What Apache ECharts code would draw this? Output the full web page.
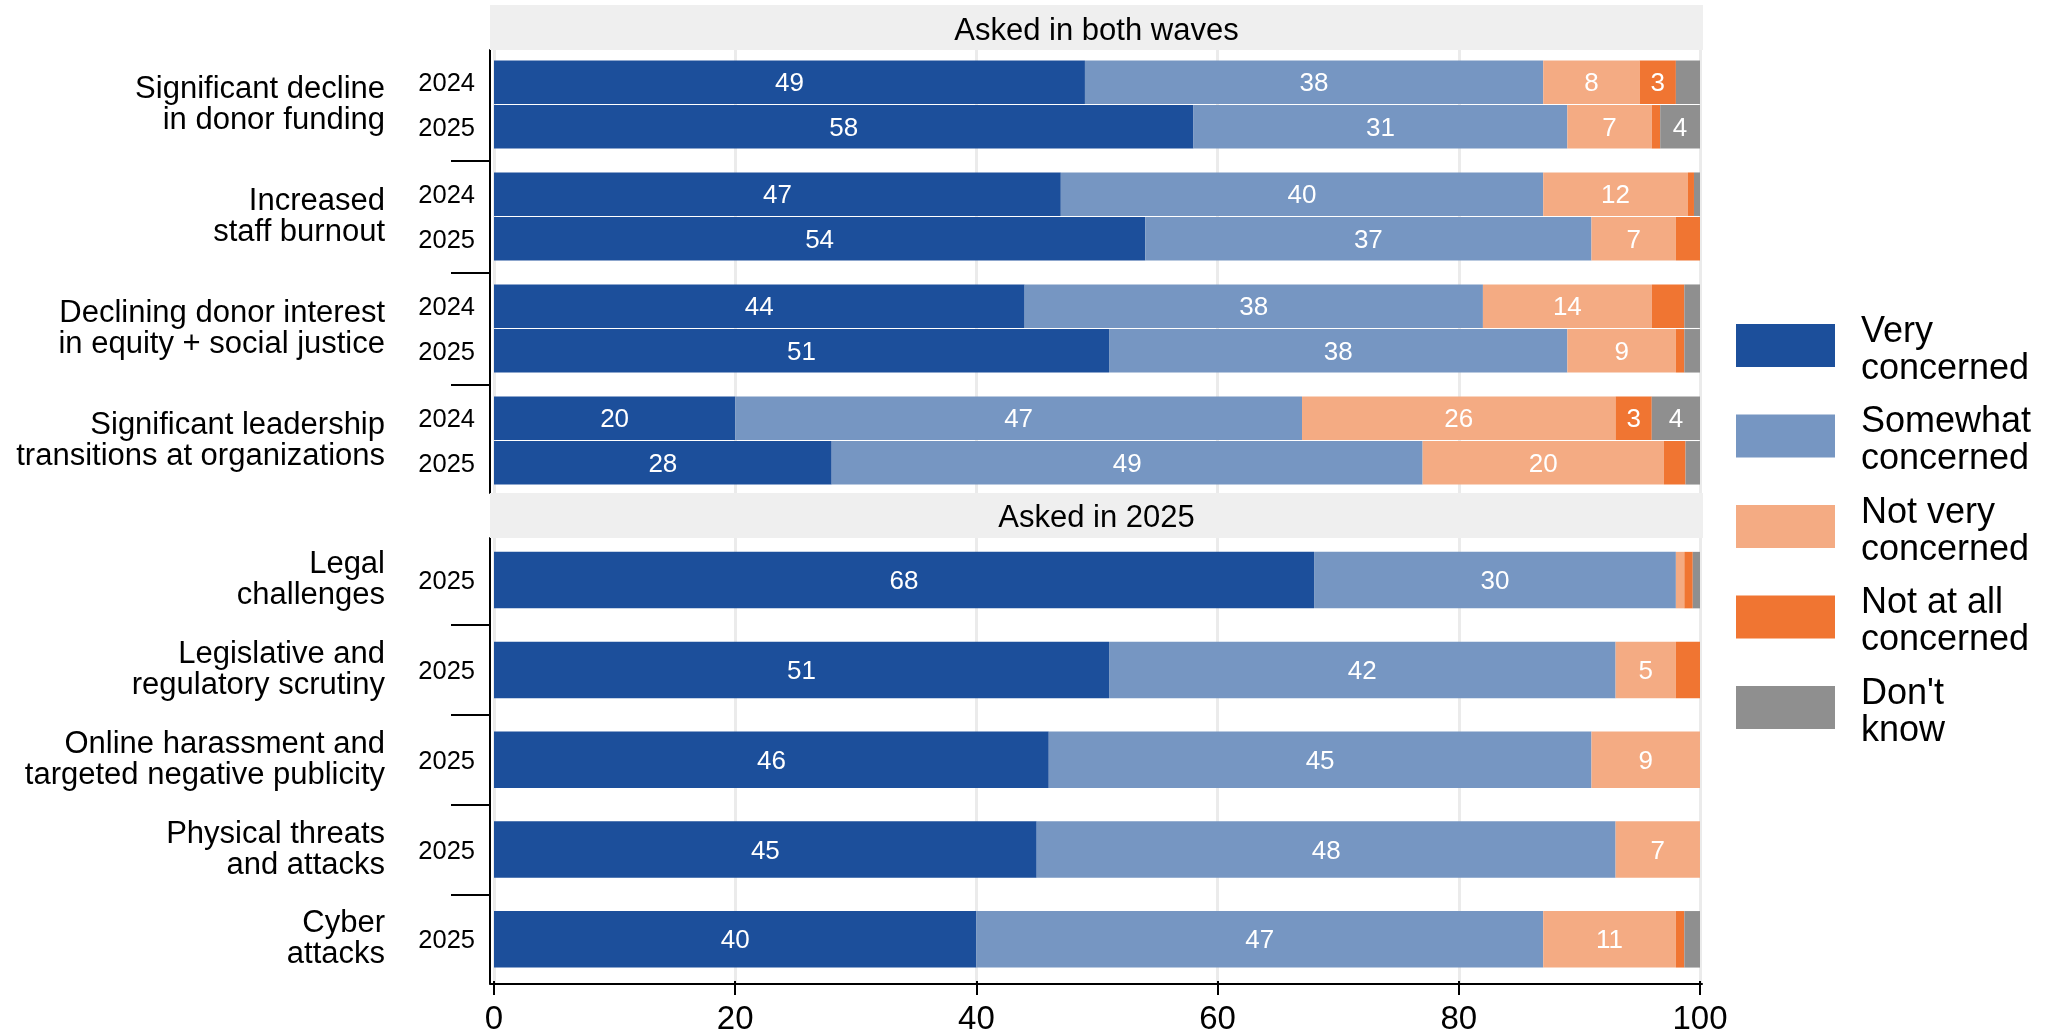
<!DOCTYPE html>
<html>
<head>
<meta charset="utf-8">
<script src="https://cdn.jsdelivr.net/npm/echarts@6/dist/echarts.min.js"></script>
<style>
  html, body { margin: 0; padding: 0; background: #ffffff; }
  #chart { width: 2051px; height: 1036px; }
</style>
</head>
<body>
<div id="chart"></div>
<script>
// Response scale, legend wording and colours
const responses = ['Very concerned', 'Somewhat concerned', 'Not very concerned', 'Not at all concerned', "Don't know"];
const responseLegend = [['Very', 'concerned'], ['Somewhat', 'concerned'], ['Not very', 'concerned'], ['Not at all', 'concerned'], ["Don't", 'know']];
const responseColors = ['#1c4f9b', '#7696c2', '#f4ab83', '#f07532', '#8f8f8f'];

// Panel headings and wave years
const panelTitles = ['Asked in both waves', 'Asked in 2025'];
const waveYears = ['2024', '2025'];

// Concerns asked in both waves
const bothWavesItems = [
  'Significant decline\nin donor funding',
  'Increased\nstaff burnout',
  'Declining donor interest\nin equity + social justice',
  'Significant leadership\ntransitions at organizations'
];
const very2024     = [49, 47, 44, 20];
const somewhat2024 = [38, 40, 38, 47];
const notVery2024  = [8, 12, 14, 26];
const notAtAll2024 = [3, 0.5, 2.7, 3];
const dontKnow2024 = [2, 0.5, 1.3, 4];

const very2025     = [58, 54, 51, 28];
const somewhat2025 = [31, 37, 38, 49];
const notVery2025  = [7, 7, 9, 20];
const notAtAll2025 = [0.7, 2, 0.7, 1.8];
const dontKnow2025 = [4, 0, 1.3, 1.2];

// Concerns asked only in 2025
const newItems = [
  'Legal\nchallenges',
  'Legislative and\nregulatory scrutiny',
  'Online harassment and\ntargeted negative publicity',
  'Physical threats\nand attacks',
  'Cyber\nattacks'
];
const newVery     = [68, 51, 46, 45, 40];
const newSomewhat = [30, 42, 45, 48, 47];
const newNotVery  = [0.7, 5, 9, 7, 11];
const newNotAtAll = [0.7, 2, 0, 0, 0.7];
const newDontKnow = [0.6, 0, 0, 0, 1.3];

// Tick values of the percentage axis
const percentTicks = [0, 20, 40, 60, 80, 100];

const FONT = '"Liberation Sans", Arial, Helvetica, sans-serif';

// One stacked bar per wave: an empty anchor bar carries the year label,
// followed by the five response segments.
function waveStack(axisIdx, stackId, year, arrays, items, barWidth) {
  const out = [];
  out.push({
    name: year + ' row',
    type: 'bar',
    xAxisIndex: axisIdx.x,
    yAxisIndex: axisIdx.y,
    stack: stackId,
    barWidth: barWidth,
    barGap: '2.5%',
    data: items.map(() => 0),
    itemStyle: { color: 'rgba(0,0,0,0)' },
    label: {
      show: true, position: 'left', distance: 19, offset: [0, 2],
      formatter: () => year,
      color: '#000', fontSize: 25.5, fontFamily: FONT
    },
    silent: true
  });
  arrays.forEach((vals, i) => {
    out.push({
      name: responses[i],
      type: 'bar',
      xAxisIndex: axisIdx.x,
      yAxisIndex: axisIdx.y,
      stack: stackId,
      barWidth: barWidth,
      barGap: '2.5%',
      data: vals,
      itemStyle: { color: responseColors[i] },
      label: {
        show: true, position: 'inside', offset: [0, 2],
        formatter: p => (p.value >= 3 ? String(p.value) : ''),
        color: '#ffffff', fontSize: 26, fontFamily: FONT
      }
    });
  });
  return out;
}

const series = [].concat(
  waveStack({ x: 0, y: 0 }, 'wave2024', waveYears[0],
    [very2024, somewhat2024, notVery2024, notAtAll2024, dontKnow2024], bothWavesItems, 43.5),
  waveStack({ x: 0, y: 0 }, 'wave2025', waveYears[1],
    [very2025, somewhat2025, notVery2025, notAtAll2025, dontKnow2025], bothWavesItems, 43.5),
  waveStack({ x: 1, y: 2 }, 'new2025', waveYears[1],
    [newVery, newSomewhat, newNotVery, newNotAtAll, newDontKnow], newItems, 56.5)
);

const blackLine = { color: '#000', width: 2 };
const gridLine = { show: true, lineStyle: { color: '#ebebeb', width: 3 } };

const categoryAxis = (grid, items) => ({
  gridIndex: grid, type: 'category', inverse: true, data: items,
  axisLine: { show: false, onZero: false }, axisTick: { show: false },
  axisLabel: { margin: 109, fontSize: 31, lineHeight: 31, color: '#000', align: 'right', fontFamily: FONT }
});
// Separator ticks between concern groups
const separatorAxis = (grid, n) => ({
  gridIndex: grid, type: 'value', min: 0, max: n, inverse: true, position: 'left', offset: 4,
  axisLine: { show: false, onZero: false },
  axisTick: { show: true, length: 39, inside: false, lineStyle: blackLine,
              customValues: Array.from({ length: n - 1 }, (_, i) => i + 1) },
  axisLabel: { show: false }, splitLine: { show: false }
});
const frameY = grid => ({
  gridIndex: grid, type: 'value', min: 0, max: 1,
  axisLine: { show: true, onZero: false, lineStyle: blackLine },
  axisTick: { show: false }, axisLabel: { show: false }, splitLine: { show: false }
});

const legendText = { fontSize: 36, lineHeight: 37, color: '#000', fontFamily: FONT };

const option = {
  animation: false,
  backgroundColor: '#ffffff',
  textStyle: { fontFamily: FONT },
  grid: [
    { left: 494, width: 1206, top: 48.5, height: 448 },
    { left: 494, width: 1206, top: 535.2, height: 451.5 },
    { left: 490, width: 1213, top: 50, height: 443 },
    { left: 490, width: 1212, top: 538, height: 445.5 }
  ],
  xAxis: [
    { gridIndex: 0, type: 'value', position: 'bottom',
      min: percentTicks[0], max: percentTicks[percentTicks.length - 1], interval: 20,
      axisLine: { show: false, onZero: false }, axisTick: { show: false }, axisLabel: { show: false },
      splitLine: gridLine },
    { gridIndex: 1, type: 'value', position: 'bottom',
      min: percentTicks[0], max: percentTicks[percentTicks.length - 1], interval: 20,
      offset: -3.2,
      axisLine: { show: false, onZero: false },
      axisTick: { show: true, length: 14, lineStyle: blackLine },
      axisLabel: { fontSize: 33, color: '#000', margin: 22, fontFamily: FONT },
      splitLine: gridLine },
    { gridIndex: 2, type: 'value', min: 0, max: 1,
      axisLine: { show: false, onZero: false }, axisTick: { show: false },
      axisLabel: { show: false }, splitLine: { show: false } },
    { gridIndex: 3, type: 'value', min: 0, max: 1, position: 'bottom',
      axisLine: { show: true, onZero: false, lineStyle: blackLine },
      axisTick: { show: false }, axisLabel: { show: false }, splitLine: { show: false } }
  ],
  yAxis: [
    categoryAxis(0, bothWavesItems),
    separatorAxis(0, bothWavesItems.length),
    categoryAxis(1, newItems),
    separatorAxis(1, newItems.length),
    frameY(2),
    frameY(3)
  ],
  legend: {
    data: responses,
    orient: 'vertical',
    left: 1736, top: 303.5,
    padding: 0,
    itemWidth: 99, itemHeight: 43, itemGap: 7,
    icon: 'rect',
    selectedMode: false,
    formatter: name => {
      const lines = responseLegend[responses.indexOf(name)];
      return '{gap| }\n{t|' + lines[0] + '}\n{t|' + lines[1] + '}';
    },
    textStyle: {
      fontSize: 36, color: '#000', fontFamily: FONT, padding: [0, 0, 0, 21],
      rich: {
        gap: { fontSize: 10, lineHeight: 10 },
        t: legendText
      }
    }
  },
  graphic: [
    { type: 'rect', z: 5, shape: { x: 490, y: 5, width: 1213, height: 45 }, style: { fill: '#efefef' } },
    { type: 'text', z: 6, x: 1096.5, y: 31,
      style: { text: panelTitles[0], fontSize: 31, fontFamily: FONT, fill: '#000', align: 'center', verticalAlign: 'middle' } },
    { type: 'rect', z: 5, shape: { x: 490, y: 493, width: 1213, height: 45 }, style: { fill: '#efefef' } },
    { type: 'text', z: 6, x: 1096.5, y: 518.5,
      style: { text: panelTitles[1], fontSize: 31, fontFamily: FONT, fill: '#000', align: 'center', verticalAlign: 'middle' } }
  ],
  series: series
};

const chart = echarts.init(document.getElementById('chart'), null, { renderer: 'canvas' });
chart.setOption(option);
</script>
</body>
</html>
